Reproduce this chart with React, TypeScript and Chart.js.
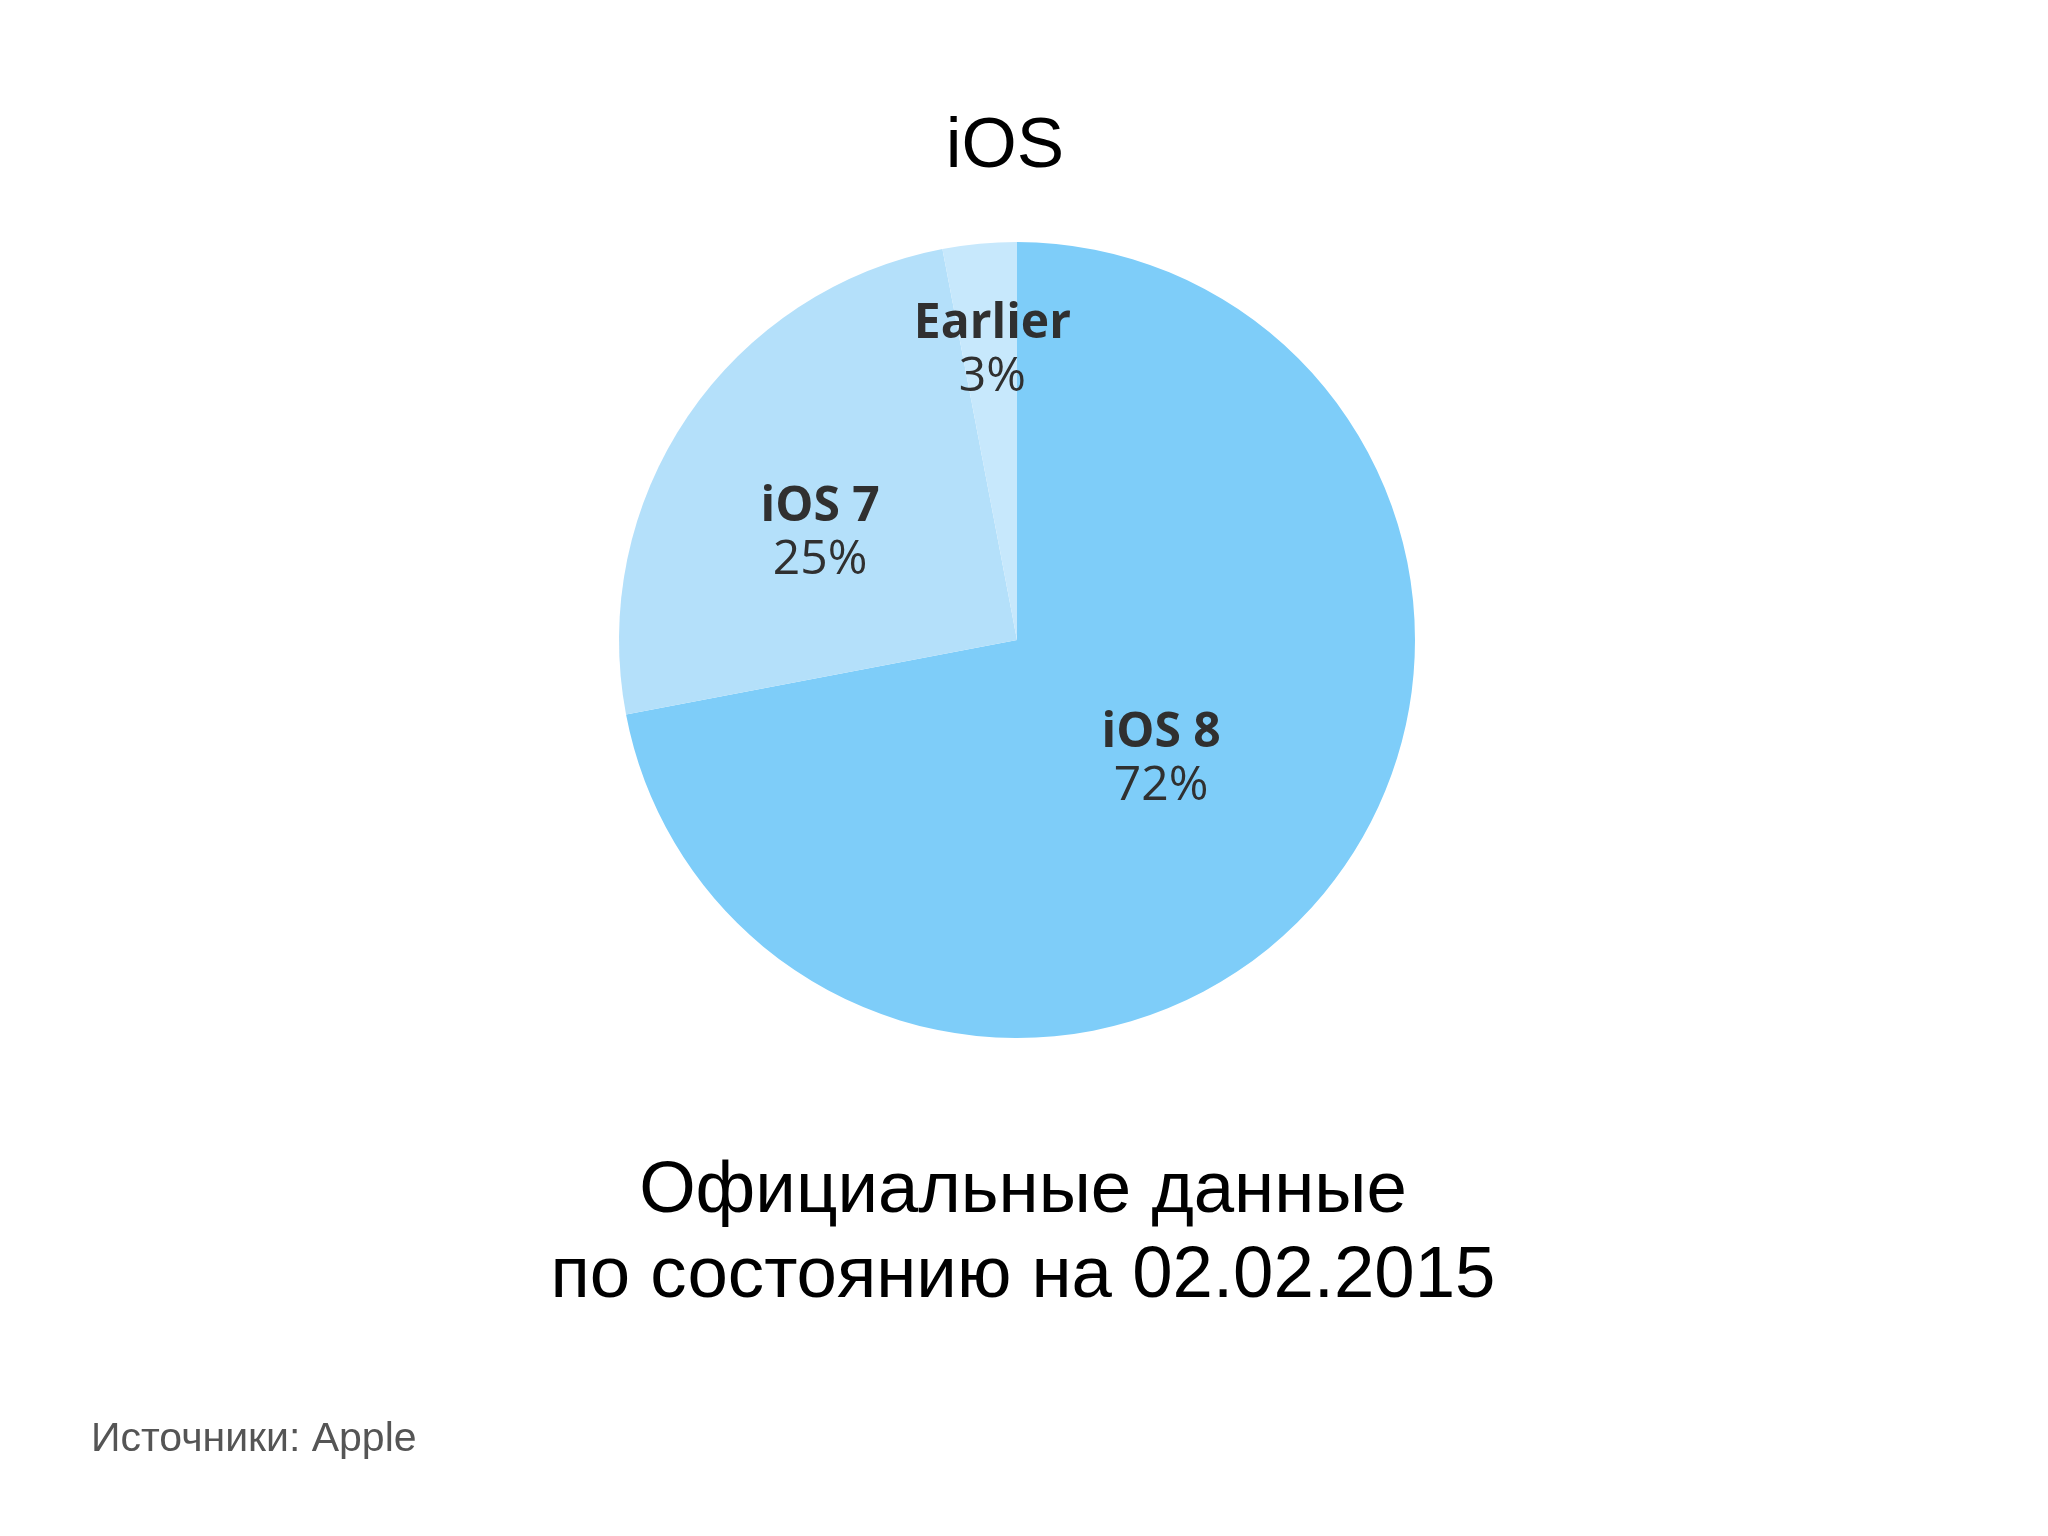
import React, { useEffect, useRef } from "react";
import { Chart, registerables } from "chart.js";

Chart.register(...registerables);

const categories = ["iOS 8", "iOS 7", "Earlier"];
const shares = [72, 25, 3];
const sliceColors = ["#7ecdf9", "#b4e0fa", "#c7e8fc"];
const labelRadius = [0.47, 0.563, 0.73];
const labelAngleFrac = [0.5, 0.437, 0.55];

const titleText = "iOS";
const subtitleLines = ["Официальные данные", "по состоянию на 02.02.2015"];
const sourceText = "Источники: Apple";

const textPlugin = {
  id: "textPlugin",
  afterDatasetsDraw(chart: any) {
    const ctx = chart.ctx;
    const meta = chart.getDatasetMeta(0);
    ctx.save();
    meta.data.forEach((arc: any, i: number) => {
      const p = arc.getProps(["x", "y", "startAngle", "endAngle", "outerRadius"], true);
      const a = p.startAngle + (p.endAngle - p.startAngle) * labelAngleFrac[i];
      const r = p.outerRadius * labelRadius[i];
      const cx = p.x + Math.cos(a) * r;
      const cy = p.y + Math.sin(a) * r;
      ctx.fillStyle = "#303030";
      ctx.textAlign = "center";
      ctx.textBaseline = "middle";
      ctx.font = "bold 48px 'Open Sans'";
      ctx.fillText(categories[i], cx, cy - 26);
      ctx.font = "48px 'Open Sans'";
      ctx.fillText(shares[i] + "%", cx, cy + 27);
    });
    ctx.restore();
  },
  afterDraw(chart: any) {
    const ctx = chart.ctx;
    ctx.save();
    ctx.fillStyle = "#000000";
    ctx.textAlign = "center";
    ctx.textBaseline = "alphabetic";
    ctx.font = "71px 'Liberation Sans'";
    ctx.fillText(titleText, 1005, 167);
    ctx.font = "72.6px 'Liberation Sans'";
    ctx.fillText(subtitleLines[0], 1023, 1212);
    ctx.fillText(subtitleLines[1], 1023, 1297);
    ctx.textAlign = "left";
    ctx.fillStyle = "#555555";
    ctx.font = "41px 'Liberation Sans'";
    ctx.fillText(sourceText, 91, 1451);
    ctx.restore();
  },
};

export default function App() {
  const ref = useRef<HTMLCanvasElement>(null);
  useEffect(() => {
    if (!ref.current) return;
    const chart = new Chart(ref.current, {
      type: "pie",
      data: {
        labels: categories,
        datasets: [
          {
            data: shares,
            backgroundColor: sliceColors,
            borderWidth: 0,
          },
        ],
      },
      options: {
        responsive: false,
        animation: false,
        layout: { padding: { top: 242, bottom: 498, left: 0, right: 14 } },
        plugins: {
          legend: { display: false },
          tooltip: { enabled: false },
        },
      },
      plugins: [textPlugin],
    });
    return () => chart.destroy();
  }, []);
  return (
    <div style={{ position: "absolute", left: 0, top: 0, width: 2048, height: 1536, background: "#fff" }}>
      <canvas ref={ref} width={2048} height={1536} style={{ width: 2048, height: 1536 }} />
    </div>
  );
}
